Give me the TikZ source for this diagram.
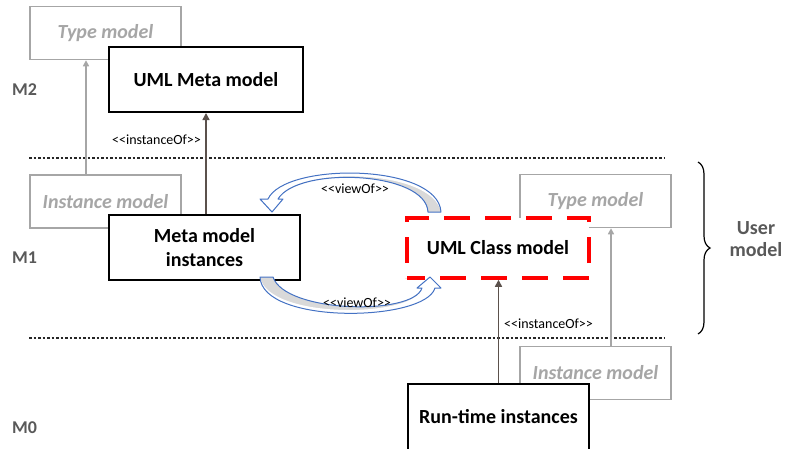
\documentclass[tikz,border=0pt]{standalone}
\usepackage{fontspec}
\setmainfont{Carlito}
\usetikzlibrary{arrows.meta, positioning, decorations.pathreplacing}
\definecolor{levelgray}{HTML}{595959}
\definecolor{ghostgray}{HTML}{A6A6A6}
\definecolor{viewblue}{HTML}{4472C4}
\definecolor{viewback}{HTML}{D9D9D9}
\definecolor{instbrown}{HTML}{5B514C}
\newcommand{\stereo}[1]{<\kern0pt<#1>\kern0pt>}
\tikzstyle{block} = [rectangle, draw, line width=2pt, text centered, align=center, fill=white, font=\fontsize{20}{24}\selectfont\bfseries]
\tikzstyle{ghost} = [rectangle, draw=ghostgray, line width=1.5pt, text=ghostgray, fill=white, minimum width=151pt, minimum height=53pt, font=\fontsize{20}{24}\selectfont\bfseries\itshape]
\tikzstyle{viewed} = [block, draw=red, line width=3.5pt, dash pattern=on 26pt off 15pt, dash phase=8pt]
\tikzstyle{inst} = [line width=1.5pt, -{Triangle[length=7pt,width=7pt]}, instbrown]
\tikzstyle{ghostinst} = [line width=1.5pt, -{Triangle[length=6pt,width=6pt]}, ghostgray]
\tikzstyle{level} = [line width=1.2pt, dash pattern=on 2.5pt off 2pt, black!85]
\tikzstyle{levelname} = [text=levelgray, font=\fontsize{18}{22}\selectfont\bfseries]
\tikzstyle{relname} = [font=\fontsize{14}{17}\selectfont]
\tikzstyle{viewback} = [fill=viewback]
\tikzstyle{viewfront} = [fill=white]
\tikzstyle{viewline} = [draw=viewblue, line width=1pt, line join=round]

\begin{document}
\begin{tikzpicture}[x=1pt, y=-1pt]
	\useasboundingbox (0,0) rectangle (785,448);

	% Level borders
	\coordinate (m2left) at (29,158);
	\coordinate (m2right) at (665,158);
	\coordinate (m1left) at (29,338);
	\coordinate (m1right) at (665,338);
	\draw[level] (m2left) -- (m2right);
	\draw[level] (m1left) -- (m1right);

	% Level names
	\node (m2) [levelname] at (24.5,90) {M2};
	\node (m1) [levelname] at (24.5,258) {M1};
	\node (m0) [levelname] at (24.5,428) {M0};

	% Type / instance roles
	\node (typeTop) [ghost] at (105.5,33) {Type model};
	\node (instLeft) [ghost] at (105.5,201.5) {Instance model};
	\node (typeRight) [ghost] at (595.5,201) {Type model};
	\node (instRight) [ghost] at (595.5,373) {Instance model};

	% Models
	\node (metaModel) [block, minimum width=194pt, minimum height=65pt] at (206,79.5) {UML Meta model};
	\node (metaInst) [block, minimum width=191pt, minimum height=65pt] at (204.5,247.5) {Meta model\\instances};
	\node (classModel) [viewed, minimum width=182pt, minimum height=60pt] at (498,248) {UML Class model};
	\node (runtime) [block, minimum width=181pt, minimum height=66pt] at (498.5,417) {Run-time instances};

	% instanceOf arrows
	\draw[ghostinst] ([xshift=-19.5pt]instLeft.north) -- ([xshift=-19.5pt]typeTop.south);
	\draw[ghostinst] ([xshift=15.5pt]instRight.north) -- ([xshift=15.5pt]typeRight.south);
	\draw[inst] (metaInst.north -| metaModel.south) -- (metaModel.south);
	\draw[inst] (runtime.north) -- (runtime.north |- classModel.south);
	\node (instOfLeft) [relname] at (156.5,140) {\stereo{instanceOf}};
	\node (instOfRight) [relname] at (548.5,324) {\stereo{instanceOf}};

	% viewOf arrows (curved block arrows)
	\path[viewback] (268,199) .. controls (285,162) and (438,163) .. (441,212) -- (428,212) .. controls (426,171) and (298,166) .. (278,199) -- cycle;
	\path[viewfront] (268,199) .. controls (285,162) and (438,163) .. (441,212) .. controls (432,168) and (293,166) .. (278,199) -- (283,199) -- (272,212) -- (260,199) -- cycle;
	\draw[viewline] (268,199) .. controls (285,162) and (438,163) .. (441,212) -- (428,212) .. controls (426,171) and (298,166) .. (278,199) -- (283,199) -- (272,212) -- (260,199) -- cycle;

	\path[viewback] (260,277) .. controls (262,325) and (425,322) .. (435,288) -- (422,288) .. controls (413,316) and (285,313) .. (273,277) -- cycle;
	\path[viewfront] (260,277) .. controls (262,325) and (425,322) .. (435,288) -- (441,288) -- (430,277) -- (417,288) -- (422,288) .. controls (416,318) and (268,320) .. (260,277) -- cycle;
	\draw[viewline] (260,277) .. controls (262,325) and (425,322) .. (435,288) -- (441,288) -- (430,277) -- (417,288) -- (422,288) .. controls (413,316) and (285,313) .. (273,277) -- cycle;

	\node (viewTop) [relname] at (355,189) {\stereo{viewOf}};
	\node (viewBottom) [relname] at (357,303) {\stereo{viewOf}};

	% User model
	\coordinate (userTop) at (698,162);
	\coordinate (userBottom) at (698,334);
	\draw[line width=1.2pt, decorate, decoration={brace, amplitude=12pt}] (userTop) -- (userBottom);
	\node (user) [levelname, font=\fontsize{20}{22}\selectfont\bfseries, align=center] at (756,239) {User\\model};

\end{tikzpicture}
\end{document}
